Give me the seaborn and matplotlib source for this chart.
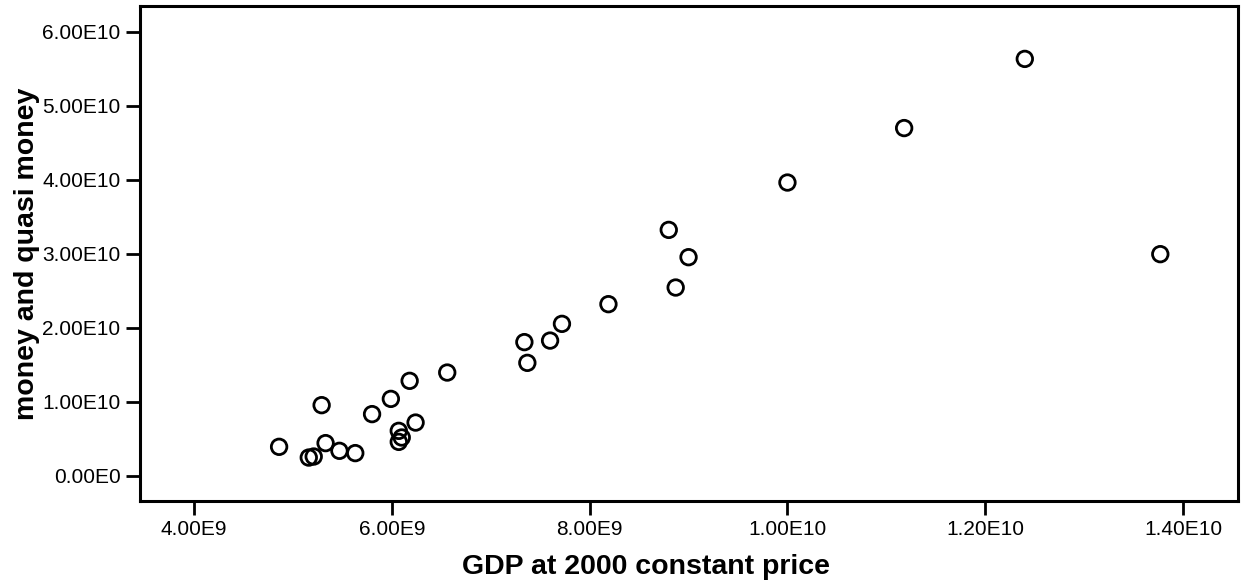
import math

import matplotlib
matplotlib.use("Agg")
import matplotlib.pyplot as plt
from matplotlib.ticker import FuncFormatter, MultipleLocator
import pandas as pd
import seaborn as sns

# GDP at 2000 constant price (x) and money and quasi money (y)
gdp = [4.86e9, 5.29e9, 5.16e9, 5.21e9, 5.33e9, 5.47e9, 5.63e9, 5.80e9,
       5.99e9, 6.18e9, 6.56e9, 6.24e9, 6.07e9, 6.10e9, 6.07e9, 7.34e9,
       7.37e9, 7.60e9, 7.72e9, 8.19e9, 8.80e9, 9.00e9, 8.87e9, 10.00e9,
       11.18e9, 12.40e9, 13.77e9]
money = [3.92e9, 9.55e9, 2.47e9, 2.61e9, 4.42e9, 3.38e9, 3.07e9, 8.34e9,
         10.40e9, 12.84e9, 13.96e9, 7.20e9, 6.08e9, 5.18e9, 4.59e9, 18.07e9,
         15.27e9, 18.28e9, 20.54e9, 23.20e9, 33.24e9, 29.55e9, 25.45e9, 39.64e9,
         47.00e9, 56.35e9, 29.96e9]

df = pd.DataFrame({"gdp": gdp, "money": money})


def spss_sci(v, pos=None):
    if v == 0:
        return "0.00E0"
    e = int(math.floor(math.log10(abs(v)) + 1e-9))
    return f"{v / 10 ** e:.2f}E{e}"


sns.set_style("ticks")
plt.rcParams["font.family"] = ["Liberation Sans", "DejaVu Sans"]
plt.rcParams["text.color"] = "black"
plt.rcParams["axes.labelcolor"] = "black"

fig = plt.figure(figsize=(12.46, 5.82), dpi=100)
ax = fig.add_axes([0.1124, 0.1392, 0.8812, 0.8505])

sns.scatterplot(data=df, x="gdp", y="money", ax=ax, marker="o", s=125,
                facecolor="none", edgecolor="black", linewidth=2.0)

ax.set_xlim(3.454e9, 1.4556e10)
ax.set_ylim(-0.34e10, 6.35e10)
ax.xaxis.set_major_locator(MultipleLocator(2e9))
ax.yaxis.set_major_locator(MultipleLocator(1e10))
ax.xaxis.set_major_formatter(FuncFormatter(spss_sci))
ax.yaxis.set_major_formatter(FuncFormatter(spss_sci))

ax.tick_params(axis="both", direction="out", length=10, width=2,
               labelsize=15, colors="black", pad=4)
for sp in ax.spines.values():
    sp.set_visible(True)
    sp.set_linewidth(2.2)
    sp.set_color("black")

ax.set_xlabel("GDP at 2000 constant price", fontsize=20.5, fontweight="bold")
ax.xaxis.set_label_coords(0.461, -0.108)
ax.set_ylabel("money and quasi money", fontsize=20.5, fontweight="bold",
              labelpad=2)

fig.savefig("out.png", dpi=100)
plt.close()
